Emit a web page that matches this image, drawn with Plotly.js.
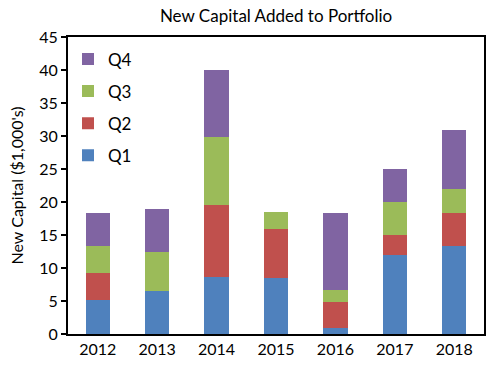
<!DOCTYPE html>
<html>
<head>
<meta charset="utf-8">
<script src="https://cdn.plot.ly/plotly-3.0.1.min.js"></script>
<style>html,body{margin:0;padding:0;background:#fff}#chart{width:493px;height:372px}</style>
</head>
<body>
<div id="chart"></div>
<script>
const years = ['2012','2013','2014','2015','2016','2017','2018'];
const q1 = [5.2, 6.5, 8.6, 8.5, 0.9, 11.9, 13.4];
const q2 = [4.1, 0, 10.9, 7.4, 3.9, 3.1, 5.0];
const q3 = [4.1, 5.9, 10.3, 2.6, 1.8, 5.0, 3.5];
const q4 = [4.9, 6.5, 10.2, 0, 11.8, 5.0, 9.0];
const seriesNames = ['Q1','Q2','Q3','Q4'];
const colors = ['#4F81BD','#C0504D','#9BBB59','#8064A2'];
const vals = [q1,q2,q3,q4];
const font = "Lato, 'Open Sans', sans-serif";
const traces = vals.map((v,i)=>({
  type:'bar', x: years, y: v, name: seriesNames[i], legendgroup: seriesNames[i],
  legendrank: 1000 - i,
  marker:{color: colors[i], line:{width:0}}, hoverinfo:'skip'
}));
const layout = {
  width:493, height:372, barmode:'stack', bargap:0.59,
  paper_bgcolor:'#fff', plot_bgcolor:'#fff',
  margin:{l:68, r:9, t:37, b:38},
  font:{family:font, size:16, color:'#000'},
  title:{text:'New Capital Added to Portfolio', x:0.56, xanchor:'center', y:0.958, yanchor:'middle', font:{family:font, size:17, color:'#000'}},
  xaxis:{type:'category', showline:true, linecolor:'#000', linewidth:2, mirror:true, ticks:'', showgrid:false, tickfont:{size:16}, fixedrange:true},
  yaxis:{range:[0,45], dtick:5, showline:true, linecolor:'#000', linewidth:2, mirror:true, ticks:'outside', ticklen:5, tickwidth:1.5, tickcolor:'#000', showgrid:false, zeroline:false, tickfont:{size:16},
    title:{text:"New Capital ($1,000's)", font:{size:16}, standoff:12}},
  legend:{x:0.0, y:0.985, xanchor:'left', yanchor:'top', traceorder:'grouped', tracegroupgap:7, font:{size:17}, bgcolor:'rgba(0,0,0,0)', itemwidth:30, valign:'middle'},
  showlegend:true
};
Plotly.newPlot('chart', traces, layout, {staticPlot:true, displayModeBar:false});
</script>
</body>
</html>
